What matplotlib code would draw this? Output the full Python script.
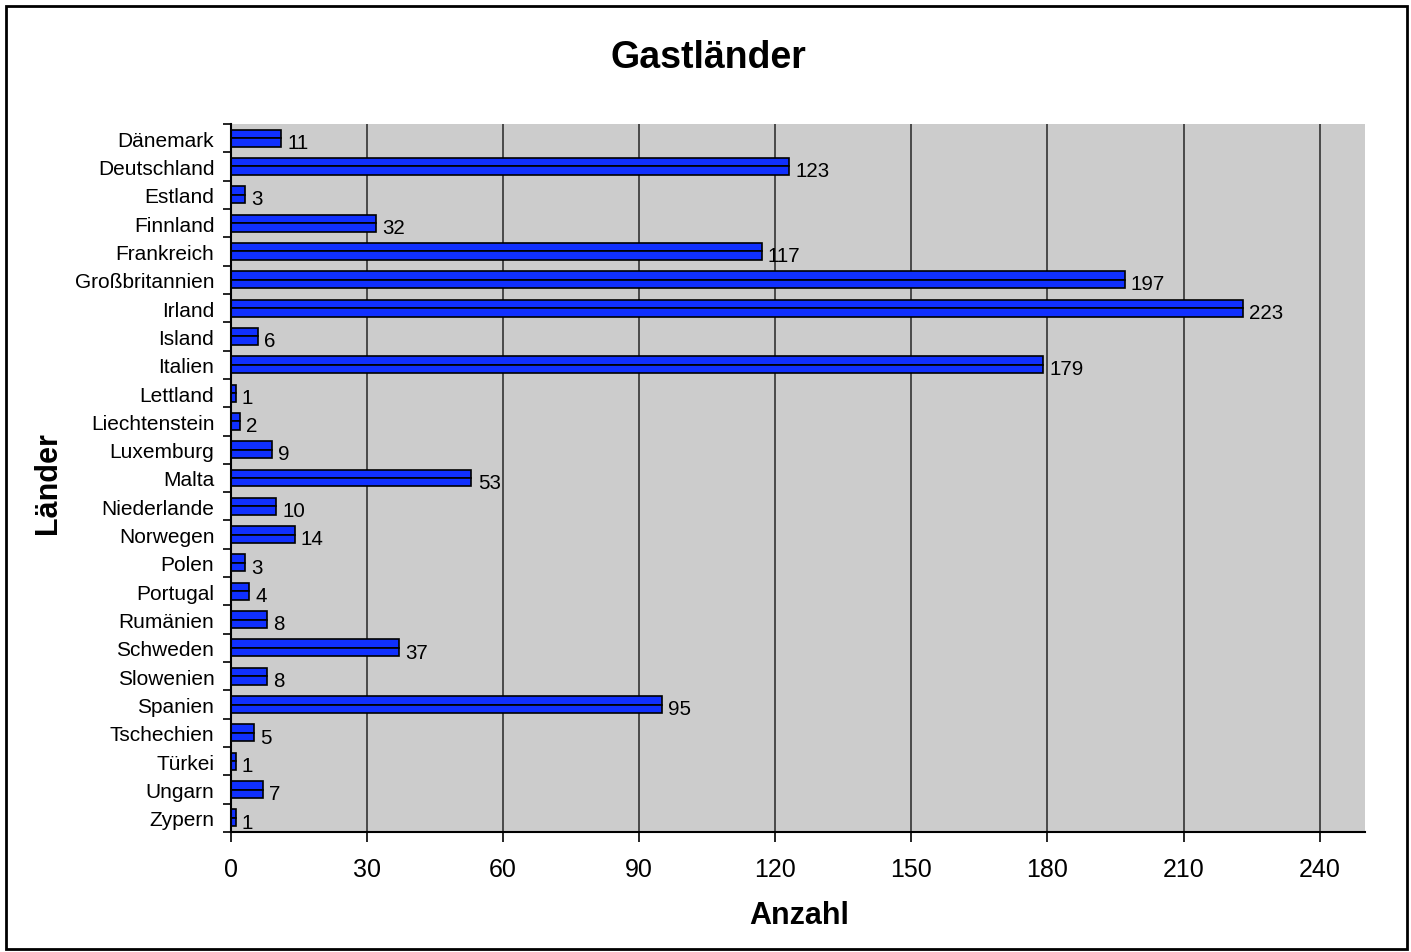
import matplotlib
matplotlib.use("Agg")
import matplotlib.pyplot as plt
from matplotlib.patches import Rectangle
import numpy as np

plt.rcParams['font.family'] = ['Liberation Sans', 'DejaVu Sans']

countries = ["Dänemark", "Deutschland", "Estland", "Finnland", "Frankreich",
             "Großbritannien", "Irland", "Island", "Italien", "Lettland",
             "Liechtenstein", "Luxemburg", "Malta", "Niederlande", "Norwegen",
             "Polen", "Portugal", "Rumänien", "Schweden", "Slowenien",
             "Spanien", "Tschechien", "Türkei", "Ungarn", "Zypern"]
values = [11, 123, 3, 32, 117, 197, 223, 6, 179, 1, 2, 9, 53, 10, 14,
          3, 4, 8, 37, 8, 95, 5, 1, 7, 1]
xticks = [0, 30, 60, 90, 120, 150, 180, 210, 240]

fig = plt.figure(figsize=(14.11, 9.53), dpi=100)
ax = fig.add_axes([231/1411, 1-833/953, (1365-231)/1411, (833-125)/953])
ax.set_facecolor('#cccccc')

y = np.arange(len(countries))
h = 0.3
ax.barh(y - h/2, values, height=h, color='#1030ff', edgecolor='black', linewidth=1.2, zorder=3)
ax.barh(y + h/2, values, height=h, color='#1030ff', edgecolor='black', linewidth=1.2, zorder=3)

for yi, v in zip(y, values):
    ax.annotate(str(v), (v, yi), xytext=(4.5, -3), textcoords='offset points',
                ha='left', va='center', fontsize=14.8, zorder=4)

ax.set_xlim(0, 250)
ax.set_ylim(len(countries) - 0.5, -0.5)
ax.set_xticks(xticks)
ax.set_xticklabels([str(t) for t in xticks], fontsize=18)
ax.set_yticks(y)
ax.set_yticklabels(countries, fontsize=15)
ax.set_yticks(np.arange(len(countries) + 1) - 0.5, minor=True)
ax.tick_params(axis='y', which='major', length=0, pad=12)
ax.tick_params(axis='y', which='minor', length=6, width=1.2, direction='out')
ax.tick_params(axis='x', which='major', length=7, width=1.2, direction='out', pad=11)
ax.grid(axis='x', color='#333333', linewidth=1.2, zorder=1)
ax.set_axisbelow(True)
for s in ['top', 'right']:
    ax.spines[s].set_visible(False)
for s in ['left', 'bottom']:
    ax.spines[s].set_linewidth(1.5)
    ax.spines[s].set_zorder(5)

fig.text(708/1411, 1-58/953, "Gastländer", ha='center', va='center', fontsize=27, fontweight='bold')
fig.text(799/1411, 1-916/953, "Anzahl", ha='center', va='center', fontsize=22, fontweight='bold')
fig.text(48/1411, 1-483/953, "Länder", ha='center', va='center', fontsize=22, fontweight='bold', rotation=90)

fig.patches.append(Rectangle((6/1411, 3/953), (1407-6)/1411, (946-3)/953, transform=fig.transFigure,
                             fill=False, edgecolor='black', linewidth=2))

fig.savefig("out.png", dpi=100)
